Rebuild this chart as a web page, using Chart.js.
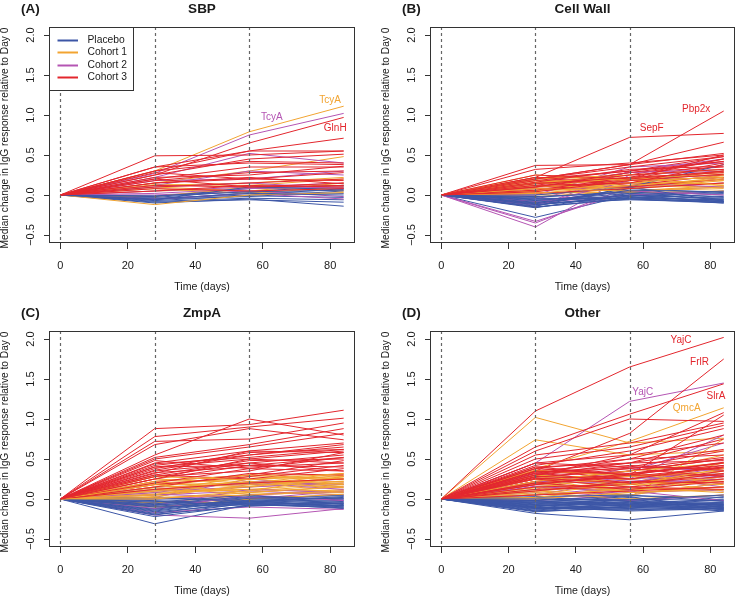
<!DOCTYPE html>
<html>
<head>
<meta charset="utf-8">
<script src="https://cdn.jsdelivr.net/npm/chart.js@4.4.1/dist/chart.umd.min.js"></script>
<style>
  body { margin: 0; background: #fff; width: 736px; height: 598px; position: relative; overflow: hidden; }
  canvas { position: absolute; }
</style>
</head>
<body>
<canvas id="pA" width="368" height="300" style="left:0;top:0"></canvas>
<canvas id="pB" width="368" height="300" style="left:368px;top:0"></canvas>
<canvas id="pC" width="368" height="293" style="left:0;top:305px"></canvas>
<canvas id="pD" width="368" height="293" style="left:368px;top:305px"></canvas>
<script>
const days = [0, 28, 56, 84];
const xTicks = [0, 20, 40, 60, 80];
const yTicks = [-0.5, 0, 0.5, 1, 1.5, 2];
const yTickLabels = ['\u22120.5', '0.0', '0.5', '1.0', '1.5', '2.0'];
const dashedDays = [0, 28, 56];
const cohorts = ['Placebo', 'Cohort 1', 'Cohort 2', 'Cohort 3'];
const cohortColors = ['#3c56a6', '#f2a431', '#b455b3', '#e3262d'];

// (A) SBP  - each row: change at day 0, 28, 56, 84
const sbpPlacebo = [
  [0,-0.05,-0.02,0.05],[0,-0.08,-0.04,-0.06],[0,-0.10,-0.05,-0.14],[0,-0.04,0.00,0.08],
  [0,-0.06,0.03,0.02],[0,-0.03,0.05,0.10],[0,-0.07,-0.01,-0.03],[0,-0.02,0.08,0.12],
  [0,-0.09,-0.06,-0.09],[0,-0.05,0.02,0.00],[0,-0.01,0.04,0.06],[0,-0.06,0.10,0.07]
];
const sbpCohort1 = [
  [0,0.30,0.79,1.11],[0,0.15,0.30,0.48],[0,0.13,0.12,0.20],[0,0.12,0.15,0.22],
  [0,0.05,0.08,0.12],[0,0.10,0.05,0.15],[0,-0.02,0.10,0.05],[0,0.08,0.02,0.10],[0,-0.12,0.00,0.03]
];
const sbpCohort2 = [
  [0,0.27,0.75,1.02],[0,0.22,0.52,0.40],[0,0.12,0.30,0.25],[0,0.18,0.20,0.30],
  [0,0.05,0.10,0.15],[0,0.00,0.05,-0.02],[0,-0.05,0.02,-0.05],[0,0.10,0.15,0.08],[0,0.02,0.08,0.10]
];
const sbpCohort3 = [
  [0,0.25,0.65,0.97],[0,0.49,0.50,0.55],[0,0.35,0.55,0.71],[0,0.30,0.55,0.55],
  [0,0.25,0.45,0.51],[0,0.35,0.40,0.38],[0,0.20,0.35,0.35],[0,0.18,0.28,0.30],
  [0,0.30,0.42,0.40],[0,0.22,0.25,0.36],[0,0.15,0.20,0.28],[0,0.10,0.15,0.20],
  [0,0.28,0.20,0.18],[0,0.12,0.10,0.15],[0,0.05,0.12,0.10],[0,0.20,0.10,0.12],
  [0,0.08,0.05,0.08],[0,0.15,0.22,0.14]
];
const sbpNotes = [['TcyA', 80, 1.18, 1], ['TcyA', 62.7, 0.97, 2], ['GlnH', 81.5, 0.83, 3]];

// (B) Cell Wall
const wallPlacebo = [
  [0,-0.28,0.00,-0.05],[0,-0.15,-0.05,-0.08],[0,-0.12,-0.03,-0.10],[0,-0.10,-0.06,-0.09],
  [0,-0.16,0.02,-0.06],[0,-0.05,-0.02,-0.07],[0,-0.08,0.05,0.00],[0,-0.13,0.00,-0.04],
  [0,-0.02,0.03,0.02],[0,-0.06,-0.04,0.05],[0,-0.10,0.08,0.03],[0,-0.14,0.10,0.38],
  [0,0.00,0.10,-0.08],[0,-0.04,-0.05,-0.10],[0,-0.07,0.02,-0.02],[0,-0.12,-0.02,-0.08],
  [0,-0.09,0.00,-0.09],[0,-0.15,-0.04,-0.06],[0,-0.03,0.04,-0.03],[0,-0.11,0.06,0.04]
];
const wallCohort1 = [
  [0,0.22,0.20,0.25],[0,0.10,0.15,0.18],[0,0.05,0.10,0.20],[0,0.12,0.05,0.12],
  [0,0.00,0.08,0.15],[0,0.08,0.12,0.10],[0,0.15,0.10,0.22],[0,-0.02,0.05,0.08],
  [0,0.06,0.18,0.30],[0,0.03,0.03,0.05],[0,0.18,0.15,0.14],[0,0.10,0.22,0.28],
  [0,0.20,0.25,0.32],[0,0.14,0.20,0.26],[0,0.05,0.15,0.24],[0,0.12,0.08,0.18],
  [0,0.02,0.12,0.20],[0,0.16,0.22,0.12],[0,0.08,0.05,0.10],[0,0.25,0.18,0.22]
];
const wallCohort2 = [
  [0,-0.40,0.25,0.30],[0,-0.35,0.10,0.20],[0,-0.33,0.05,0.10],[0,-0.15,0.30,0.45],
  [0,-0.05,0.20,0.25],[0,0.05,0.15,0.10],[0,-0.10,0.00,0.05],[0,0.00,0.35,0.40],
  [0,0.08,0.10,0.15],[0,-0.08,0.05,0.00],[0,0.10,0.28,0.32],[0,-0.12,0.18,0.22]
];
const wallCohort3 = [
  [0,0.20,0.38,1.05],[0,0.22,0.72,0.77],[0,0.37,0.38,0.52],[0,0.32,0.40,0.50],
  [0,0.20,0.38,0.66],[0,0.20,0.30,0.48],[0,0.15,0.25,0.45],[0,0.18,0.20,0.40],
  [0,0.12,0.28,0.35],[0,0.10,0.15,0.30],[0,0.22,0.12,0.25],[0,0.05,0.20,0.50],
  [0,0.15,0.18,0.22],[0,0.08,0.10,0.20],[0,0.10,0.25,0.32],[0,0.02,0.08,0.15],
  [0,0.18,0.30,0.42],[0,0.06,0.22,0.28],[0,0.12,0.15,0.38],[0,0.14,0.22,0.45],
  [0,0.20,0.35,0.48],[0,0.10,0.28,0.42],[0,0.25,0.20,0.30],[0,0.16,0.32,0.36],[0,0.04,0.18,0.26]
];
const wallNotes = [['Pbp2x', 75.8, 1.07, 3], ['SepF', 62.6, 0.83, 3]];

// (C) ZmpA
const zmpPlacebo = [
  [0,-0.31,-0.07,-0.10],[0,-0.20,-0.05,-0.12],[0,-0.22,-0.08,-0.08],[0,-0.18,-0.03,-0.05],
  [0,-0.15,-0.02,-0.10],[0,-0.10,-0.05,0.00],[0,-0.12,0.00,-0.02],[0,-0.05,-0.04,0.02],
  [0,-0.08,0.02,0.04],[0,-0.02,-0.06,-0.06],[0,0.00,0.00,0.05],[0,-0.14,-0.01,-0.04],
  [0,-0.06,0.03,0.00],[0,0.02,-0.03,0.03],[0,-0.04,0.05,-0.07],[0,-0.10,-0.07,-0.11],
  [0,-0.16,-0.06,-0.06],[0,-0.09,-0.02,-0.09],[0,-0.03,-0.08,-0.03],[0,-0.13,0.01,0.01],
  [0,-0.07,-0.04,-0.08],[0,-0.19,-0.09,-0.05]
];
const zmpCohort1 = [
  [0,0.15,0.30,0.30],[0,0.10,0.20,0.25],[0,0.05,0.15,0.22],[0,0.12,0.10,0.18],
  [0,0.00,0.08,0.15],[0,0.20,0.25,0.28],[0,0.08,0.12,0.10],[0,-0.05,0.05,0.12],
  [0,0.18,0.20,0.32],[0,0.03,0.18,0.20],[0,0.14,0.06,0.08],[0,-0.10,0.00,0.06],
  [0,0.10,0.28,0.24],[0,0.20,0.15,0.28],[0,0.25,0.20,0.22],[0,0.15,0.18,0.30],
  [0,0.05,0.25,0.18],[0,0.10,0.12,0.20],[0,0.22,0.30,0.25],[0,0.00,0.10,0.28],
  [0,0.12,0.22,0.14],[0,0.18,0.08,0.16],[0,0.06,0.16,0.26],[0,0.28,0.24,0.32],[0,0.02,0.05,0.10]
];
const zmpCohort2 = [
  [0,-0.20,-0.24,-0.12],[0,-0.17,-0.10,-0.13],[0,0.02,0.25,0.15],[0,0.05,0.10,0.05],
  [0,-0.05,0.00,0.10],[0,0.10,0.15,0.20],[0,0.00,0.05,-0.02],[0,-0.08,0.12,0.08],
  [0,0.12,0.20,0.12],[0,0.06,0.02,0.00],[0,0.15,0.18,0.25],[0,-0.12,0.05,0.10],[0,0.08,0.22,0.18]
];
const zmpCohort3 = [
  [0,0.88,0.93,1.11],[0,0.78,0.90,1.01],[0,0.55,1.00,0.80],[0,0.72,0.75,0.95],
  [0,0.68,0.88,0.74],[0,0.52,0.68,0.88],[0,0.50,0.65,0.82],[0,0.45,0.60,0.70],
  [0,0.42,0.55,0.65],[0,0.40,0.50,0.60],[0,0.38,0.58,0.62],[0,0.35,0.45,0.55],
  [0,0.30,0.48,0.50],[0,0.33,0.40,0.45],[0,0.28,0.35,0.58],[0,0.25,0.42,0.40],
  [0,0.22,0.30,0.48],[0,0.30,0.25,0.38],[0,0.20,0.38,0.35],[0,0.18,0.28,0.42],
  [0,0.15,0.32,0.30],[0,0.48,0.38,0.52],[0,0.36,0.55,0.68],[0,0.12,0.20,0.25],
  [0,0.25,0.50,0.45],[0,0.40,0.42,0.52],[0,0.32,0.60,0.58],[0,0.44,0.52,0.62],[0,0.28,0.45,0.35]
];
const zmpNotes = [];

// (D) Other
const otherPlacebo = [
  [0,-0.18,-0.26,-0.15],[0,-0.15,-0.12,-0.14],[0,-0.12,-0.10,-0.10],[0,-0.10,-0.15,-0.12],
  [0,-0.08,-0.05,-0.13],[0,-0.05,-0.08,-0.06],[0,-0.03,-0.02,-0.08],[0,-0.14,-0.04,-0.04],
  [0,-0.06,0.00,-0.02],[0,0.00,-0.06,0.00],[0,-0.10,0.02,-0.10],[0,-0.02,0.04,0.02],
  [0,-0.16,-0.10,-0.05],[0,0.02,-0.03,-0.11],[0,-0.07,-0.12,0.03],[0,-0.04,0.03,-0.14],
  [0,-0.12,-0.07,-0.07],[0,-0.09,-0.01,0.05],[0,0.03,0.05,-0.03],[0,-0.11,-0.14,-0.09],
  [0,-0.13,-0.09,-0.12],[0,-0.08,-0.11,-0.08],[0,-0.05,-0.04,-0.10],[0,-0.15,-0.06,-0.06],
  [0,-0.02,-0.09,-0.04],[0,-0.11,-0.03,-0.13],[0,-0.07,-0.08,-0.01],[0,-0.10,-0.13,-0.11],
  [0,0.00,-0.01,-0.07],[0,-0.04,-0.07,-0.15]
];
const otherCohort1 = [
  [0,1.02,0.70,0.76],[0,0.74,0.55,0.60],[0,0.38,0.72,1.14],[0,0.35,0.30,0.55],
  [0,0.30,0.20,0.45],[0,0.25,0.15,0.35],[0,0.20,0.30,0.30],[0,0.15,0.10,0.25],
  [0,0.10,0.05,0.20],[0,0.22,0.02,0.75],[0,0.05,0.12,0.15],[0,0.18,0.25,0.10],
  [0,0.08,0.00,0.05],[0,0.28,0.18,0.22],[0,0.12,0.22,0.18],[0,0.00,0.08,0.12],
  [0,0.18,0.12,0.28],[0,0.30,0.25,0.40],[0,0.06,0.20,0.32],[0,0.25,0.08,0.15],
  [0,0.14,0.30,0.22],[0,0.36,0.28,0.35],[0,0.02,0.14,0.08],[0,0.22,0.35,0.45],[0,0.10,0.18,0.38]
];
const otherCohort2 = [
  [0,0.45,1.22,1.45],[0,0.30,0.25,0.80],[0,0.20,0.35,0.70],[0,0.15,0.10,0.30],
  [0,0.10,0.20,0.25],[0,0.05,0.15,0.10],[0,-0.02,0.05,0.20],[0,0.25,0.30,0.15],
  [0,0.08,-0.02,0.05],[0,0.12,0.40,0.35],[0,0.00,0.10,-0.02],[0,0.18,0.12,0.28],
  [0,0.22,0.20,0.40],[0,0.05,0.25,0.32],[0,0.16,0.08,0.12],[0,0.32,0.22,0.30]
];
const otherCohort3 = [
  [0,1.10,1.65,2.02],[0,0.35,0.82,1.75],[0,0.65,1.06,1.44],[0,0.60,1.00,0.97],
  [0,0.45,0.55,1.08],[0,0.40,0.30,1.05],[0,0.55,0.70,0.95],[0,0.50,0.65,0.92],
  [0,0.42,0.60,0.88],[0,0.38,0.50,0.80],[0,0.35,0.45,0.75],[0,0.30,0.55,0.70],
  [0,0.45,0.40,0.60],[0,0.32,0.50,0.55],[0,0.28,0.35,0.50],[0,0.40,0.45,0.48],
  [0,0.25,0.30,0.45],[0,0.36,0.25,0.42],[0,0.30,0.40,0.38],[0,0.22,0.35,0.50],
  [0,0.20,0.28,0.40],[0,0.33,0.20,0.35],[0,0.18,0.30,0.30],[0,0.15,0.18,0.32],
  [0,0.27,0.38,0.28],[0,0.12,0.15,0.25],[0,0.10,0.22,0.20],[0,0.35,0.32,0.45],
  [0,0.05,0.10,0.15],[0,0.25,0.15,0.12],[0,0.30,0.45,0.62],[0,0.20,0.12,0.22],
  [0,0.38,0.30,0.46],[0,0.32,0.42,0.36],[0,0.26,0.20,0.28],[0,0.18,0.32,0.42],
  [0,0.34,0.38,0.52],[0,0.28,0.25,0.40]
];
const otherNotes = [['YajC', 71.3, 1.98, 3], ['FrlR', 76.8, 1.71, 3], ['YajC', 59.9, 1.34, 2],
  ['SlrA', 81.7, 1.29, 3], ['QmcA', 73, 1.13, 1]];

const FONT = "'Liberation Sans', Arial, Helvetica, sans-serif";
const INK = '#1a1a1a';

const panels = [
  { id: 'pA', letter: '(A)', title: 'SBP', series: [sbpPlacebo, sbpCohort1, sbpCohort2, sbpCohort3], notes: sbpNotes, legend: true, yw: 49, pr: 13, pt: 27, xh: 57 },
  { id: 'pB', letter: '(B)', title: 'Cell Wall', series: [wallPlacebo, wallCohort1, wallCohort2, wallCohort3], notes: wallNotes, legend: false, yw: 62, pr: 1, pt: 27, xh: 57 },
  { id: 'pC', letter: '(C)', title: 'ZmpA', series: [zmpPlacebo, zmpCohort1, zmpCohort2, zmpCohort3], notes: zmpNotes, legend: false, yw: 49, pr: 13, pt: 26, xh: 51 },
  { id: 'pD', letter: '(D)', title: 'Other', series: [otherPlacebo, otherCohort1, otherCohort2, otherCohort3], notes: otherNotes, legend: false, yw: 62, pr: 1, pt: 26, xh: 51 }
];

const decor = {
  id: 'decor',
  afterDatasetsDraw(chart, args, opts) {
    const { ctx, chartArea: a, scales: { x, y } } = chart;
    ctx.save();
    // dashed visit lines
    ctx.strokeStyle = '#666';
    ctx.lineWidth = 1.2;
    ctx.setLineDash([3, 3]);
    dashedDays.forEach(d => {
      const px = Math.round(x.getPixelForValue(d)) + 0.5;
      ctx.beginPath(); ctx.moveTo(px, a.top); ctx.lineTo(px, a.bottom); ctx.stroke();
    });
    ctx.setLineDash([]);
    // antigen labels
    ctx.font = '10px ' + FONT;
    ctx.textAlign = 'center';
    ctx.textBaseline = 'middle';
    opts.notes.forEach(([txt, dx, dy, c]) => {
      ctx.fillStyle = cohortColors[c];
      ctx.fillText(txt, x.getPixelForValue(dx), y.getPixelForValue(dy));
    });
    // legend
    if (opts.legend) {
      const lx = a.left, ly = a.top;
      ctx.fillStyle = '#fff';
      ctx.fillRect(lx, ly, 84, 63);
      ctx.strokeStyle = '#333'; ctx.lineWidth = 1;
      ctx.strokeRect(lx + 0.5, ly + 0.5, 84, 63);
      ctx.font = '10.3px ' + FONT;
      ctx.textAlign = 'left';
      cohorts.forEach((name, i) => {
        const ry = Math.round(ly + 13 + i * 12.4) + 0.5;
        ctx.strokeStyle = cohortColors[i]; ctx.lineWidth = 2;
        ctx.beginPath(); ctx.moveTo(lx + 8.5, ry); ctx.lineTo(lx + 29, ry); ctx.stroke();
        ctx.fillStyle = INK;
        ctx.fillText(name, lx + 38.5, ry);
      });
    }
    // frame
    ctx.strokeStyle = '#333'; ctx.lineWidth = 1;
    ctx.strokeRect(a.left + 0.5, a.top + 0.5, a.width - 1, a.height - 1);
    // y tick labels, rotated like base R
    ctx.fillStyle = INK;
    ctx.font = '11px ' + FONT;
    ctx.textAlign = 'center';
    yTicks.forEach((v, i) => {
      ctx.save();
      ctx.translate(a.left - 18.5, y.getPixelForValue(v));
      ctx.rotate(-Math.PI / 2);
      ctx.fillText(yTickLabels[i], 0, 0);
      ctx.restore();
    });
    // axis titles
    ctx.font = '10.6px ' + FONT;
    ctx.fillText('Time (days)', (a.left + a.right) / 2, a.bottom + 44);
    ctx.font = '10.2px ' + FONT;
    ctx.save();
    ctx.translate(a.left - 43.5, (a.top + a.bottom) / 2 + 3);
    ctx.rotate(-Math.PI / 2);
    ctx.fillText('Median change in IgG response relative to Day 0', 0, 0);
    ctx.restore();
    // panel title and letter
    ctx.font = 'bold 13.5px ' + FONT;
    ctx.fillText(opts.title, (a.left + a.right) / 2, a.top - 18);
    ctx.textAlign = 'left';
    ctx.fillText(opts.letter, a.left - 28, a.top - 18);
    ctx.restore();
  }
};

function buildDatasets(series) {
  const sets = [];
  const longest = Math.max(...series.map(rows => rows.length));
  // interleave the cohorts so no single colour buries the others
  for (let i = 0; i < longest; i++) {
    series.forEach((rows, c) => {
      const r = rows[i];
      if (!r) return;
      sets.push({
        data: days.map((d, k) => ({ x: d, y: r[k] })),
        borderColor: cohortColors[c],
        borderWidth: 1,
        pointRadius: 0,
        fill: false,
        tension: 0
      });
    });
  }
  // Chart.js paints the first dataset last
  return sets.reverse();
}

panels.forEach(p => {
  new Chart(document.getElementById(p.id), {
    type: 'line',
    data: { datasets: buildDatasets(p.series) },
    options: {
      responsive: false,
      animation: false,
      events: [],
      layout: { padding: { top: p.pt, right: p.pr, left: 0, bottom: 0 } },
      plugins: {
        legend: { display: false },
        tooltip: { enabled: false },
        decor: { title: p.title, letter: p.letter, notes: p.notes, legend: p.legend }
      },
      scales: {
        x: {
          type: 'linear',
          min: -3.36, max: 87.36,
          afterBuildTicks: s => { s.ticks = xTicks.map(v => ({ value: v })); },
          afterFit: s => { s.height = p.xh; },
          grid: { drawOnChartArea: false, drawTicks: true, tickLength: 6, color: '#333' },
          border: { display: false },
          ticks: { color: INK, padding: 10, maxRotation: 0, font: { family: FONT, size: 11 } }
        },
        y: {
          type: 'linear',
          min: -0.6, max: 2.1,
          afterBuildTicks: s => { s.ticks = yTicks.map(v => ({ value: v })); },
          afterFit: s => { s.width = p.yw; },
          grid: { drawOnChartArea: false, drawTicks: true, tickLength: 5, color: '#333' },
          border: { display: false },
          ticks: { display: false }
        }
      }
    },
    plugins: [decor]
  });
});
</script>
</body>
</html>
